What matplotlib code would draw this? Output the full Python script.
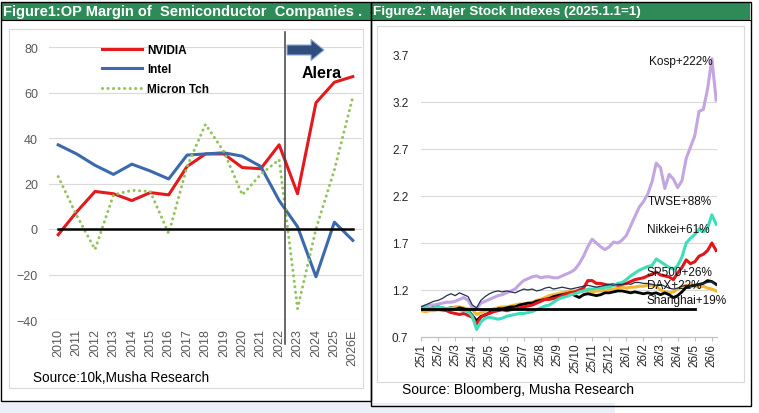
import numpy as np
import matplotlib
matplotlib.use('Agg')
import matplotlib.pyplot as plt
from matplotlib.patches import Rectangle, FancyArrow
from matplotlib.lines import Line2D

plt.rcParams['font.family'] = ['Liberation Sans', 'DejaVu Sans']

# ---- Figure 1 data: operating margin (%) ----
years = ['2010', '2011', '2012', '2013', '2014', '2015', '2016', '2017', '2018',
         '2019', '2020', '2021', '2022', '2023', '2024', '2025', '2026E']
nvidia = [-2.5, 7.5, 16.5, 15.5, 12.5, 16, 15, 27.5, 33, 33, 27, 26.5, 37, 15.5, 55.5, 64.5, 67]
intel = [37, 33, 28, 24, 28.5, 25.5, 22, 32.5, 33, 33.5, 32, 27.5, 12.5, 1, -21, 3, -5]
micron = [23, 6, -9, 15, 17, 16.5, -2, 27.5, 46, 34, 15, 24, 30.5, -35, 0, 26, 58]

# ---- Figure 2 data: indexes, 2025.1.1 = 1, read roughly weekly ----
month_labels = ['25/1', '25/2', '25/3', '25/4', '25/5', '25/6', '25/7', '25/8', '25/9',
                '25/10', '25/11', '25/12', '26/1', '26/2', '26/3', '26/4', '26/5', '26/6']
kospi = [1.02, 1.03, 1.04, 1.04, 1.05, 1.06, 1.07, 1.07, 1.08, 1.10, 1.12, 1.09,
         1.01, 1.00, 1.06, 1.08, 1.10, 1.12, 1.14, 1.15, 1.17, 1.19, 1.21, 1.26,
         1.30, 1.32, 1.34, 1.35, 1.33, 1.34, 1.34, 1.33, 1.33, 1.35, 1.37, 1.39,
         1.42, 1.48, 1.56, 1.66, 1.74, 1.70, 1.66, 1.63, 1.66, 1.71, 1.70, 1.73,
         1.78, 1.88, 1.98, 2.08, 2.14, 2.22, 2.35, 2.55, 2.50, 2.28, 2.43, 2.38,
         2.29, 2.36, 2.60, 2.72, 2.84, 3.10, 3.12, 3.34, 3.66, 3.22]
twse = [1.01, 1.02, 1.00, 1.01, 1.02, 1.01, 1.00, 1.01, 1.00, 0.99, 0.98, 0.97,
        0.92, 0.78, 0.86, 0.90, 0.91, 0.90, 0.89, 0.90, 0.92, 0.93, 0.94, 0.95,
        0.95, 0.96, 0.97, 0.99, 1.01, 1.03, 1.04, 1.07, 1.10, 1.12, 1.13, 1.15,
        1.16, 1.18, 1.19, 1.21, 1.21, 1.22, 1.22, 1.23, 1.23, 1.25, 1.27, 1.28,
        1.31, 1.35, 1.38, 1.41, 1.43, 1.45, 1.46, 1.53, 1.50, 1.47, 1.44, 1.42,
        1.46, 1.55, 1.70, 1.75, 1.79, 1.85, 1.82, 1.86, 2.00, 1.90]
nikkei = [1.00, 1.01, 1.00, 1.01, 1.00, 0.99, 0.98, 0.96, 0.95, 0.94, 0.95, 0.93,
          0.91, 0.84, 0.91, 0.94, 0.95, 0.97, 0.98, 0.99, 0.98, 0.99, 1.00, 1.01,
          1.02, 1.03, 1.04, 1.06, 1.08, 1.10, 1.10, 1.11, 1.12, 1.14, 1.16, 1.17,
          1.18, 1.20, 1.22, 1.30, 1.30, 1.27, 1.27, 1.26, 1.25, 1.26, 1.25, 1.26,
          1.27, 1.29, 1.31, 1.32, 1.33, 1.35, 1.37, 1.39, 1.36, 1.35, 1.34, 1.31,
          1.38, 1.44, 1.52, 1.48, 1.50, 1.56, 1.58, 1.62, 1.70, 1.62]
dax = [1.02, 1.04, 1.06, 1.08, 1.09, 1.11, 1.14, 1.16, 1.14, 1.17, 1.15, 1.13,
       1.04, 1.01, 1.09, 1.13, 1.16, 1.18, 1.19, 1.18, 1.19, 1.18, 1.17, 1.19,
       1.21, 1.20, 1.21, 1.19, 1.20, 1.22, 1.23, 1.21, 1.22, 1.23, 1.22, 1.21,
       1.22, 1.23, 1.24, 1.25, 1.24, 1.23, 1.24, 1.25, 1.26, 1.25, 1.26, 1.26,
       1.27, 1.26, 1.28, 1.28, 1.27, 1.27, 1.26, 1.25, 1.26, 1.24, 1.22, 1.21,
       1.22, 1.24, 1.25, 1.24, 1.25, 1.26, 1.27, 1.28, 1.29, 1.25]
sp500 = [1.00, 1.01, 1.00, 1.01, 1.02, 1.01, 1.00, 1.01, 1.00, 1.01, 1.00, 0.98,
         0.93, 0.87, 0.92, 0.93, 0.96, 0.98, 1.00, 1.00, 1.01, 1.02, 1.02, 1.04,
         1.05, 1.06, 1.06, 1.08, 1.09, 1.10, 1.11, 1.13, 1.14, 1.15, 1.16, 1.17,
         1.14, 1.12, 1.15, 1.16, 1.15, 1.14, 1.15, 1.17, 1.17, 1.18, 1.19, 1.19,
         1.18, 1.17, 1.18, 1.17, 1.16, 1.17, 1.16, 1.17, 1.15, 1.17, 1.15, 1.12,
         1.14, 1.18, 1.23, 1.24, 1.25, 1.26, 1.27, 1.30, 1.29, 1.26]
shanghai = [0.98, 0.97, 0.98, 0.98, 0.99, 0.98, 1.00, 1.01, 1.02, 1.02, 1.01, 1.00,
            0.99, 0.94, 0.96, 0.98, 0.99, 1.00, 1.01, 1.02, 1.02, 1.03, 1.04, 1.05,
            1.05, 1.06, 1.07, 1.09, 1.10, 1.12, 1.14, 1.15, 1.16, 1.17, 1.18, 1.19,
            1.19, 1.18, 1.19, 1.19, 1.18, 1.19, 1.19, 1.20, 1.20, 1.21, 1.22, 1.23,
            1.22, 1.23, 1.23, 1.24, 1.24, 1.25, 1.25, 1.24, 1.20, 1.18, 1.17, 1.18,
            1.21, 1.23, 1.25, 1.25, 1.24, 1.23, 1.24, 1.22, 1.21, 1.19]

W, H = 759, 414


def fx(px):
    return px / W


def fy(py):
    return 1 - py / H


def box(x0, y0, x1, y1, **kw):
    fig.add_artist(Rectangle((fx(x0), fy(y1)), fx(x1) - fx(x0), fy(y0) - fy(y1),
                             transform=fig.transFigure, **kw))


fig = plt.figure(figsize=(W / 100, H / 100), dpi=100)
fig.patch.set_facecolor('white')

# frames and headers
box(0, 404, 615, 414, facecolor='#EDEFF8', edgecolor='none')
box(9, 30, 363, 389, fill=False, edgecolor='#D9D9D9', lw=0.8)
box(377, 27, 744, 383, fill=False, edgecolor='#D9D9D9', lw=0.8)
box(1, 3, 371, 21, facecolor='#2E8B57', edgecolor='none')
box(372, 3, 750, 21, facecolor='#2E8B57', edgecolor='none')
box(1, 3, 371, 402, fill=False, edgecolor='black', lw=1)
box(371, 3, 751, 407, fill=False, edgecolor='black', lw=1)
fig.add_artist(Line2D([fx(1), fx(751)], [fy(21), fy(21)], color='black', lw=0.8,
                      transform=fig.transFigure))
fig.text(fx(3), fy(12), 'Figure1:OP Margin of  Semiconductor  Companies .', color='white',
         fontsize=10.5, fontweight='bold', va='center')
fig.text(fx(373), fy(12), 'Figure2: Majer Stock Indexes (2025.1.1=1)', color='white',
         fontsize=9.7, fontweight='bold', va='center')

# ---- left chart ----
ax1 = fig.add_axes([fx(49), fy(321), fx(362) - fx(49), (321 - 48) / H])
x = np.arange(len(years))
ax1.plot(x, nvidia, color='#E3191C', lw=2.2, label='NVIDIA', zorder=3)
ax1.plot(x, intel, color='#3C69AE', lw=2.2, label='Intel', zorder=3)
ax1.plot(x, micron, color='#93C25B', lw=2.2, linestyle=(0, (0.01, 1.8)),
         dash_capstyle='round', label='Micron Tch', zorder=3)
ax1.plot([0, 16], [0, 0], color='black', lw=1.8, zorder=4)
ax1.plot([12.34, 12.34], [86.6, -50.5], color='#404040', lw=1.1, clip_on=False, zorder=5)
ax1.set_xlim(-0.5, 16.5)
ax1.set_ylim(-40, 80)
ax1.set_yticks(range(-40, 81, 20))
ax1.set_xticks(x)
ax1.set_xticklabels(years, rotation=90)
ax1.tick_params(axis='both', length=0, labelsize=9, labelcolor='#595959')
ax1.tick_params(axis='y', pad=8)
ax1.tick_params(axis='x', pad=6)
ax1.grid(axis='y', color='#D9D9D9', lw=0.8)
ax1.set_axisbelow(True)
for s in ax1.spines.values():
    s.set_visible(False)
ax1.legend(loc='upper left', bbox_to_anchor=(fx(102), fy(45)), bbox_transform=fig.transFigure,
           frameon=False, prop={'weight': 'bold', 'size': 8.5}, handlelength=3.4,
           handletextpad=0.4, labelspacing=0.62, borderpad=0, borderaxespad=0)

fig.add_artist(FancyArrow(fx(287), fy(51), fx(37), 0, width=10 / H, head_width=21 / H,
                          head_length=fx(13), length_includes_head=True,
                          transform=fig.transFigure, facecolor='#2F4E7E',
                          edgecolor='#8FAADC', lw=0.8))
fig.text(fx(302), fy(73), 'Alera', fontsize=11.5, fontweight='bold', va='center')
fig.text(fx(33), fy(378), 'Source:10k,Musha Research', fontsize=9.8, va='center')

# ---- right chart ----
ax2 = fig.add_axes([fx(421), fy(338), fx(717) - fx(421), (338 - 51.3) / H])
t = np.arange(len(kospi)) / 4
ax2.plot(t, kospi, color='#C3A5E2', lw=2.2, zorder=3)
ax2.plot(t, shanghai, color='#F2B630', lw=2.2, zorder=3)
ax2.plot(t, sp500, color='black', lw=2.0, zorder=3)
ax2.plot(t, nikkei, color='#E3151B', lw=2.2, zorder=3)
ax2.plot(t, twse, color='#3FDDB8', lw=2.2, zorder=3)
ax2.plot(t, dax, color='#22314F', lw=0.9, zorder=3)
ax2.plot([0, 16], [1.0, 1.0], color='black', lw=2.0, zorder=4)
ax2.set_xlim(0, 17.3)
ax2.set_ylim(0.7, 3.75)
yt = [0.7, 1.2, 1.7, 2.2, 2.7, 3.2, 3.7]
ax2.set_yticks(yt)
ax2.set_yticklabels(['%.1f' % v for v in yt])
ax2.set_xticks(range(len(month_labels)))
ax2.set_xticklabels(month_labels, rotation=90)
ax2.tick_params(axis='y', length=0, labelsize=8.5, labelcolor='#262626', pad=9)
ax2.tick_params(axis='x', length=3, color='#BFBFBF', labelsize=8.5, labelcolor='#262626', pad=1)
ax2.grid(axis='y', color='#D9D9D9', lw=0.8)
ax2.yaxis.get_gridlines()[-1].set_visible(False)
ax2.set_axisbelow(True)
for k, s in ax2.spines.items():
    s.set_visible(k == 'bottom')
ax2.spines['bottom'].set_color('#BFBFBF')

lab = dict(fontsize=8.5, color='#111111', va='center', zorder=6)
ax2.text(17.05, 3.64, 'Kosp+222%', ha='right', **lab)
ax2.text(13.28, 2.15, 'TWSE+88%', **lab)
ax2.text(13.18, 1.85, 'Nikkei+61%', **lab)
ax2.text(13.18, 1.395, 'SP500+26%', **lab)
ax2.text(13.18, 1.25, 'DAX+22%', **lab)
ax2.text(13.18, 1.097, 'Shanghai+19%', **lab)

fig.text(fx(402), fy(390), 'Source: Bloomberg, Musha Research', fontsize=10, va='center')

fig.savefig('out.png', dpi=100)
